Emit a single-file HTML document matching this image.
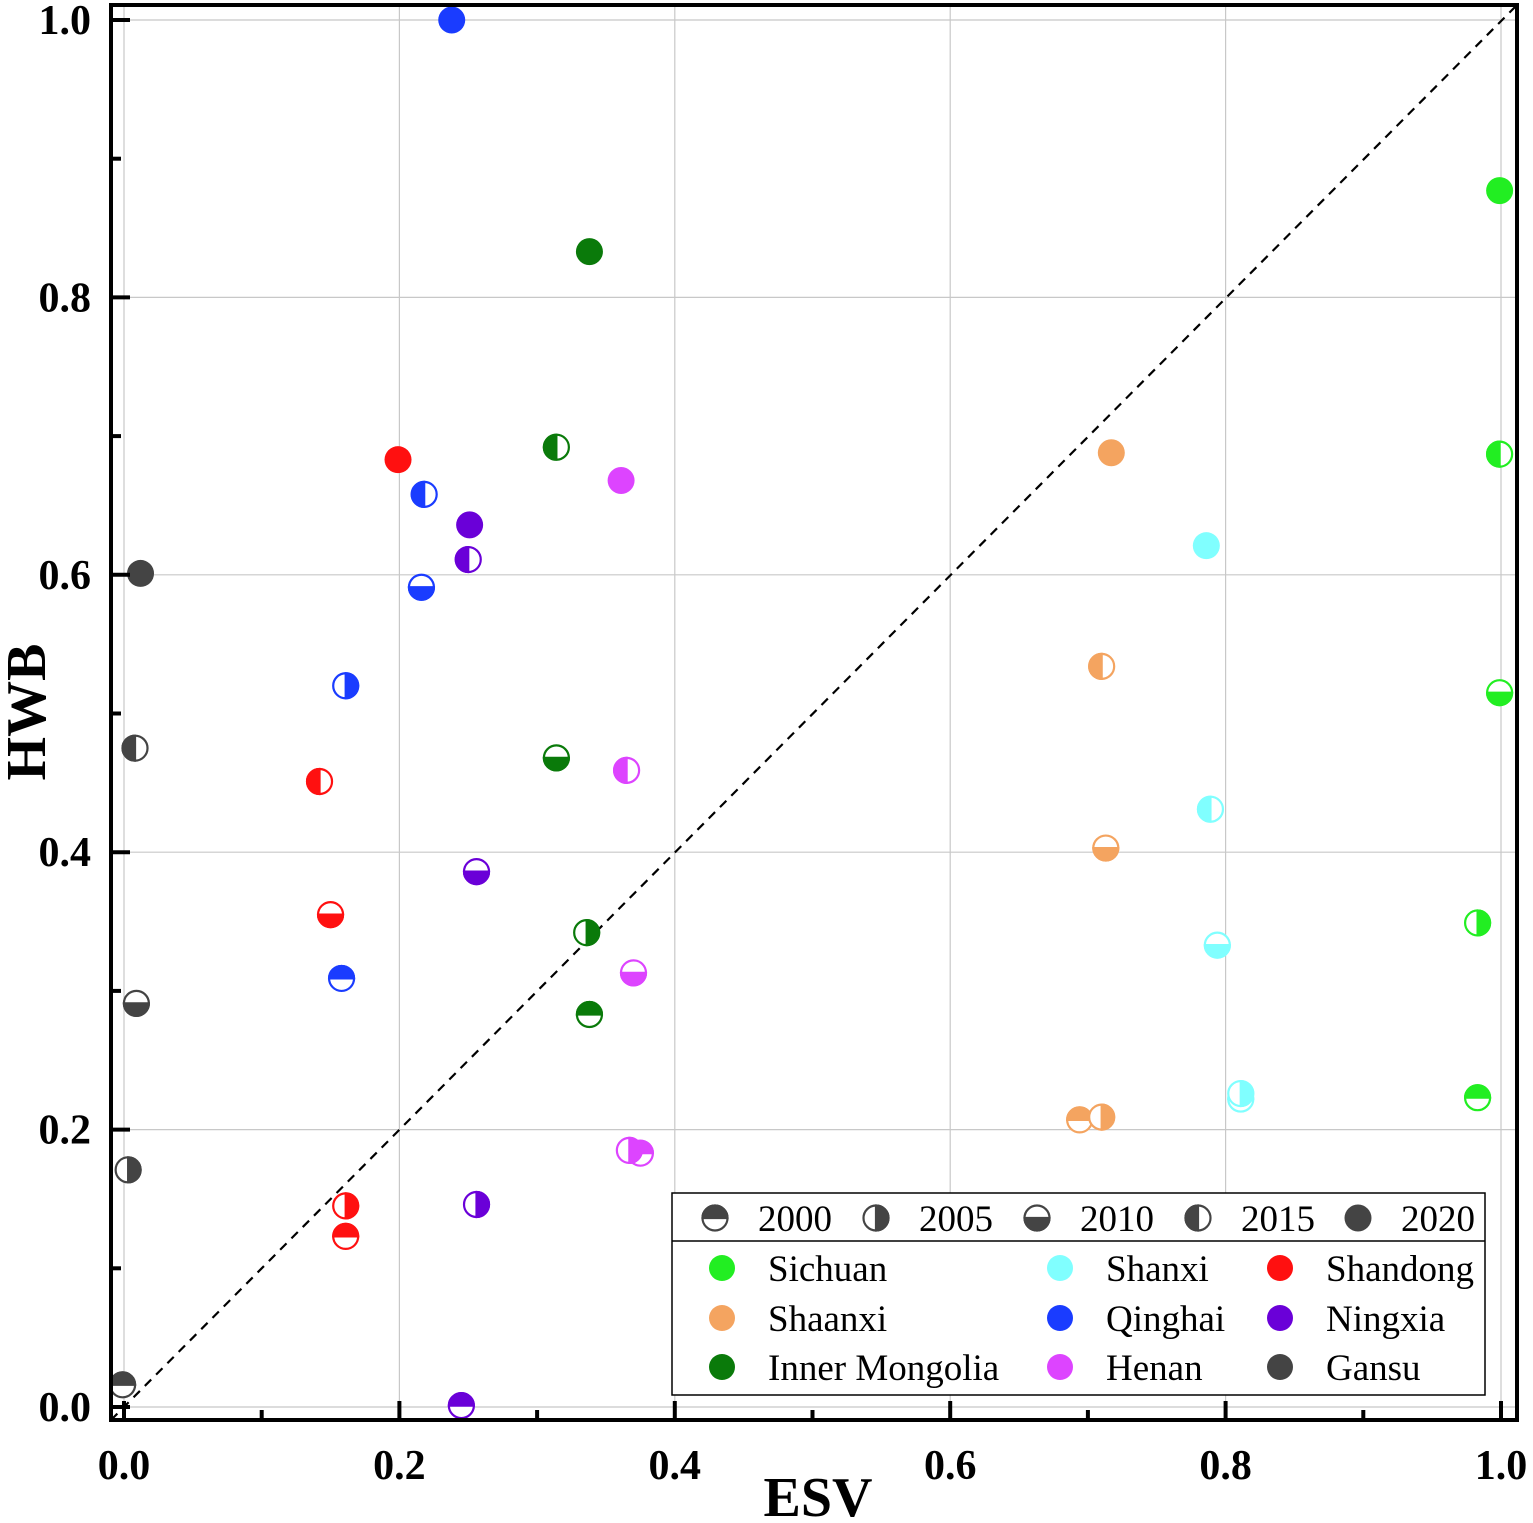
<!DOCTYPE html>
<html><head><meta charset="utf-8"><style>
html,body{margin:0;padding:0;background:#fff;}
svg{display:block;font-family:"Liberation Serif",serif;}
</style></head><body>
<svg id="chart" width="1533" height="1523" viewBox="0 0 1533 1523" xmlns="http://www.w3.org/2000/svg">
<g id="grid"></g>
<line x1="111" y1="1420" x2="1517" y2="5" stroke="#000" stroke-width="2.2" stroke-dasharray="9,7"/>
<g id="points"></g>
<rect x="111" y="5" width="1406" height="1415" fill="none" stroke="#000" stroke-width="4"/>
<g id="ticks"></g>
<text x="818" y="1516" font-size="56" font-weight="bold" text-anchor="middle">ESV</text>
<text transform="translate(45,712) rotate(-90)" font-size="56" font-weight="bold" text-anchor="middle">HWB</text>
<g id="legend">
<rect x="672" y="1193" width="813" height="202" fill="#fff" stroke="#000" stroke-width="1.5"/>
<line x1="672" y1="1241" x2="1485" y2="1241" stroke="#000" stroke-width="1.5"/>
</g>
</svg>
<script>
const years = ['2000','2005','2010','2015','2020'];
const provinces = ['Sichuan','Shaanxi','Shanxi','Shandong','Qinghai','Ningxia','Inner Mongolia','Henan','Gansu'];
const colors = ['#22ee22','#f4a460','#80ffff','#ff1010','#1a3cff','#6a00d8','#0a7a0a','#dd44ff','#444444'];
const legendOrder = ['Sichuan','Shanxi','Shandong','Shaanxi','Qinghai','Ningxia','Inner Mongolia','Henan','Gansu'];
const esvSichuan = [0.983,0.983,0.999,0.999,0.999];
const hwbSichuan = [0.223,0.349,0.515,0.687,0.877];
const esvShaanxi = [0.694,0.710,0.713,0.710,0.717];
const hwbShaanxi = [0.207,0.209,0.403,0.534,0.688];
const esvShanxi = [0.811,0.811,0.794,0.789,0.786];
const hwbShanxi = [0.222,0.226,0.333,0.431,0.621];
const esvShandong = [0.161,0.161,0.150,0.142,0.199];
const hwbShandong = [0.123,0.145,0.355,0.451,0.683];
const esvQinghai = [0.158,0.161,0.216,0.218,0.238];
const hwbQinghai = [0.309,0.520,0.591,0.658,1.0];
const esvNingxia = [0.245,0.256,0.256,0.250,0.251];
const hwbNingxia = [0.001,0.146,0.386,0.611,0.636];
const esvInnerMongolia = [0.338,0.336,0.314,0.314,0.338];
const hwbInnerMongolia = [0.283,0.342,0.468,0.692,0.833];
const esvHenan = [0.375,0.367,0.370,0.365,0.361];
const hwbHenan = [0.183,0.185,0.313,0.459,0.668];
const esvGansu = [-0.001,0.003,0.009,0.008,0.012];
const hwbGansu = [0.016,0.171,0.291,0.475,0.601];
const tickValues = [0,0.2,0.4,0.6,0.8,1.0];
const tickLabels = ['0.0','0.2','0.4','0.6','0.8','1.0'];
const minorTicks = [0.1,0.3,0.5,0.7,0.9];

const esvAll = [esvSichuan,esvShaanxi,esvShanxi,esvShandong,esvQinghai,esvNingxia,esvInnerMongolia,esvHenan,esvGansu];
const hwbAll = [hwbSichuan,hwbShaanxi,hwbShanxi,hwbShandong,hwbQinghai,hwbNingxia,hwbInnerMongolia,hwbHenan,hwbGansu];

const NS='http://www.w3.org/2000/svg';
const X = v => 124 + v*1377;
const Y = v => 1407 - v*1387;
function mk(tag, attrs, parent){const e=document.createElementNS(NS,tag);for(const k in attrs)e.setAttribute(k,attrs[k]);parent.appendChild(e);return e;}

const grid=document.getElementById('grid'), ticks=document.getElementById('ticks');
tickValues.forEach((v,i)=>{
  const gx=mk('line',{x1:X(v),x2:X(v),y1:5,y2:1420,stroke:'#c8c8c8','stroke-width':1.2},grid);
  
  
  const gy=mk('line',{x1:111,x2:1517,y1:Y(v),y2:Y(v),stroke:'#c8c8c8','stroke-width':1.2},grid);
  
  
  const tx=mk('line',{x1:X(v),x2:X(v),y1:1420,y2:1401,stroke:'#000','stroke-width':4},ticks);
  
  
  const ty=mk('line',{x1:111,x2:130,y1:Y(v),y2:Y(v),stroke:'#000','stroke-width':4},ticks);
  
  
  const lx=mk('text',{x:X(v),y:1479,'font-size':42,'font-weight':'bold','text-anchor':'middle'},ticks);
  lx.textContent=tickLabels[i];
  
  
  const ly=mk('text',{x:91,y:Y(v)+14,'font-size':42,'font-weight':'bold','text-anchor':'end'},ticks);
  ly.textContent=tickLabels[i];
  
  
});
minorTicks.forEach(v=>{
  const tx=mk('line',{x1:X(v),x2:X(v),y1:1420,y2:1410,stroke:'#000','stroke-width':4},ticks);
  
  
  const ty=mk('line',{x1:111,x2:121,y1:Y(v),y2:Y(v),stroke:'#000','stroke-width':4},ticks);
  
  
});

const R=12.5;
function marker(parent,cx,cy,color,yi){
  const g=mk('g',{},parent);
  if(yi===4){mk('circle',{cx,cy,r:R+1,fill:color},g);return g;}
  mk('circle',{cx,cy,r:R,fill:'#fff',stroke:color,'stroke-width':2.2},g);
  let d;
  if(yi===0) d=`M${cx-R},${cy} A${R},${R} 0 0 1 ${cx+R},${cy} Z`;
  if(yi===1) d=`M${cx},${cy-R} A${R},${R} 0 0 1 ${cx},${cy+R} Z`;
  if(yi===2) d=`M${cx-R},${cy} A${R},${R} 0 0 0 ${cx+R},${cy} Z`;
  if(yi===3) d=`M${cx},${cy-R} A${R},${R} 0 0 0 ${cx},${cy+R} Z`;
  mk('path',{d,fill:color,stroke:color,'stroke-width':2.2},g);
  return g;
}
const pts=document.getElementById('points');
provinces.forEach((p,pi)=>{
  years.forEach((yr,yi)=>{
    const g=marker(pts,X(esvAll[pi][yi]),Y(hwbAll[pi][yi]),colors[pi],yi);
    
    
  });
});

const lg=document.getElementById('legend');
const yearMX=[715,876,1037,1198,1358];
years.forEach((yr,i)=>{
  const g=marker(lg,yearMX[i],1218,'#444444',i);
  
  
  const t=mk('text',{x:yearMX[i]+43,y:1231,'font-size':37},lg);
  t.textContent=yr;
  
  
});
const colMX=[722,1060,1280], rowY=[1268,1318,1367];
legendOrder.forEach((p,i)=>{
  const pi=provinces.indexOf(p);
  const cx=colMX[i%3], cy=rowY[Math.floor(i/3)];
  const c=mk('circle',{cx,cy,r:13,fill:colors[pi]},lg);
  
  
  const t=mk('text',{x:cx+46,y:cy+13,'font-size':37},lg);
  t.textContent=p;
  
  
});
</script>
</body></html>
